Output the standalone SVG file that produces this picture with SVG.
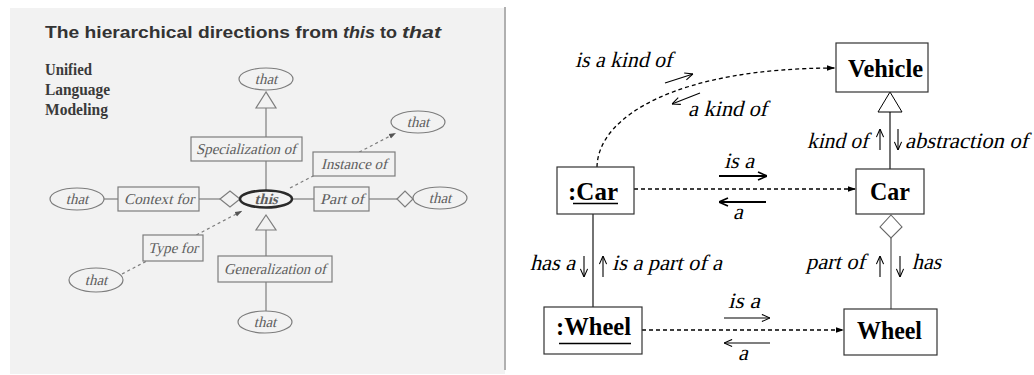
<svg xmlns="http://www.w3.org/2000/svg" width="1034" height="375" viewBox="0 0 1034 375">
<style>
.bg{fill:#f2f2f2}
.lg{stroke:#7d7d7d;stroke-width:1.2;fill:#f2f2f2}
.ll{stroke:#7d7d7d;stroke-width:1.2;fill:none}
.ld{stroke:#7d7d7d;stroke-width:1.2;fill:none;stroke-dasharray:3 3}
.lt{font-family:"Liberation Serif","Times New Roman",serif;font-size:15px;fill:#5e5e5e;text-anchor:middle}
.ttl{font-family:"Liberation Sans",Arial,sans-serif;font-weight:bold;font-size:17px;fill:#333}
.uml{font-family:"Liberation Serif","Times New Roman",serif;font-weight:bold;font-size:16px;fill:#3a3a3a}
.box{fill:#fff;stroke:#333;stroke-width:1.2}
.bt{font-family:"Liberation Serif","Times New Roman",serif;font-weight:bold;font-size:26px;fill:#000}
.it{font-family:"Liberation Serif","Times New Roman",serif;font-size:22px;fill:#000}
.dash{stroke:#000;stroke-width:1.3;fill:none;stroke-dasharray:4 3}
.sol{stroke:#000;stroke-width:1.1;fill:none}
.arr{stroke:#000;stroke-width:1.1;fill:none}
.arrb{stroke:#000;stroke-width:2;fill:none}
</style>
<defs>
<marker id="fa" viewBox="0 0 10 10" refX="10" refY="5" markerWidth="8" markerHeight="8" orient="auto" markerUnits="userSpaceOnUse"><path d="M0,1.5 L10,5 L0,8.5Z" fill="#000"/></marker>
<marker id="ga" viewBox="0 0 10 10" refX="10" refY="5" markerWidth="7" markerHeight="7" orient="auto" markerUnits="userSpaceOnUse"><path d="M0,1.5 L10,5 L0,8.5Z" fill="#555"/></marker>
<marker id="oa" viewBox="0 0 10 10" refX="10" refY="5" markerWidth="9" markerHeight="9" orient="auto" markerUnits="userSpaceOnUse"><path d="M1,1 L10,5 L1,9" fill="none" stroke="#000" stroke-width="1.2"/></marker>
<marker id="ob" viewBox="0 0 10 10" refX="10" refY="5" markerWidth="10" markerHeight="10" orient="auto" markerUnits="userSpaceOnUse"><path d="M1,1 L10,5 L1,9" fill="none" stroke="#000" stroke-width="1.6"/></marker>
</defs>

<!-- left panel: overview of UML directions -->
<rect class="bg" x="10" y="8" width="495" height="366"/>
<line x1="505" y1="7" x2="505" y2="370" stroke="#b0b0b0" stroke-width="2"/>
<text class="ttl" x="45" y="38" textLength="293" lengthAdjust="spacingAndGlyphs">The hierarchical directions from</text>
<text class="ttl" x="343" y="38" font-style="italic" textLength="32" lengthAdjust="spacingAndGlyphs">this</text>
<text class="ttl" x="380" y="38" textLength="17" lengthAdjust="spacingAndGlyphs">to</text>
<text class="ttl" x="402" y="38" font-style="italic" textLength="39" lengthAdjust="spacingAndGlyphs">that</text>
<text class="uml" x="45" y="75" textLength="47" lengthAdjust="spacingAndGlyphs">Unified</text>
<text class="uml" x="45" y="95" textLength="65" lengthAdjust="spacingAndGlyphs">Language</text>
<text class="uml" x="45" y="115" textLength="63" lengthAdjust="spacingAndGlyphs">Modeling</text>

<g id="left-connectors">
<line class="ll" x1="266" y1="108" x2="266" y2="191"/>
<line class="ll" x1="266" y1="230" x2="266" y2="311"/>
<line class="ll" x1="104" y1="199" x2="118" y2="199"/>
<line class="ll" x1="199" y1="199" x2="220" y2="199"/>
<line class="ll" x1="292" y1="199" x2="314" y2="199"/>
<line class="ll" x1="369" y1="199" x2="397" y2="199"/>
<line class="ld" x1="290" y1="188" x2="396" y2="133" marker-end="url(#ga)"/>
<line class="ld" x1="122" y1="274" x2="242" y2="211" marker-end="url(#ga)"/>
</g>

<g id="l-that-top"><ellipse class="lg" cx="266" cy="79" rx="27" ry="11"/><text class="lt" transform="translate(266,84) skewX(-14)">that</text></g>
<g id="l-gen-tri-top"><polygon class="lg" points="266,92 256,108 276,108"/></g>
<g id="l-spec"><rect class="lg" x="191" y="137" width="111" height="24"/><text class="lt" transform="translate(246,154) skewX(-14)" textLength="100" lengthAdjust="spacingAndGlyphs">Specialization of</text></g>
<g id="l-that-inst"><ellipse class="lg" cx="418" cy="122" rx="27" ry="11"/><text class="lt" transform="translate(418,127) skewX(-14)">that</text></g>
<g id="l-inst"><rect class="lg" x="313" y="152" width="82" height="24"/><text class="lt" transform="translate(354,169) skewX(-14)" textLength="66" lengthAdjust="spacingAndGlyphs">Instance of</text></g>
<g id="l-that-left"><ellipse class="lg" cx="77" cy="199" rx="27" ry="11"/><text class="lt" transform="translate(77,204) skewX(-14)">that</text></g>
<g id="l-context"><rect class="lg" x="118" y="187" width="81" height="24"/><text class="lt" transform="translate(159,204) skewX(-14)" textLength="70" lengthAdjust="spacingAndGlyphs">Context for</text></g>
<g id="l-dia-left"><polygon class="lg" points="220,199 230,191 240,199 230,207"/></g>
<g id="l-this"><ellipse cx="266" cy="199" rx="26" ry="8.5" fill="#f2f2f2" stroke="#2a2a2a" stroke-width="2.5"/><text class="lt" transform="translate(266,204) skewX(-14)" font-weight="bold" fill="#333">this</text></g>
<g id="l-partof"><rect class="lg" x="314" y="187" width="55" height="24"/><text class="lt" transform="translate(342,204) skewX(-14)" textLength="44" lengthAdjust="spacingAndGlyphs">Part of</text></g>
<g id="l-dia-right"><polygon class="lg" points="397,199 405,191 413,199 405,207"/></g>
<g id="l-that-right"><ellipse class="lg" cx="440" cy="198" rx="27" ry="11"/><text class="lt" transform="translate(440,203) skewX(-14)">that</text></g>
<g id="l-gen-tri-bot"><polygon class="lg" points="266,215 256,230 276,230"/></g>
<g id="l-typefor"><rect class="lg" x="143" y="235" width="60" height="26"/><text class="lt" transform="translate(173,253) skewX(-14)" textLength="50" lengthAdjust="spacingAndGlyphs">Type for</text></g>
<g id="l-that-type"><ellipse class="lg" cx="96" cy="280" rx="27" ry="12"/><text class="lt" transform="translate(96,285) skewX(-14)">that</text></g>
<g id="l-general"><rect class="lg" x="218" y="256" width="114" height="26"/><text class="lt" transform="translate(275,274) skewX(-14)" textLength="102" lengthAdjust="spacingAndGlyphs">Generalization of</text></g>
<g id="l-that-bot"><ellipse class="lg" cx="265" cy="322" rx="27" ry="11"/><text class="lt" transform="translate(265,327) skewX(-14)">that</text></g>

<!-- right panel -->
<g id="connectors">
<path class="dash" d="M597,167 C598,115 680,68 835,68" marker-end="url(#fa)"/>
<line class="dash" x1="634" y1="189" x2="856" y2="189" marker-end="url(#fa)"/>
<line class="dash" x1="642" y1="330" x2="844" y2="330" marker-end="url(#fa)"/>
<line class="sol" x1="593" y1="214" x2="593" y2="307"/>
<line class="sol" x1="890" y1="112" x2="890" y2="169"/>
<polygon points="890,92 878,112 902,112" fill="#fff" stroke="#000" stroke-width="1"/>
<line x1="891" y1="238" x2="891" y2="309" stroke="#808080" stroke-width="1.6"/>
<polygon points="891,215 902,227 891,238 880,227" fill="#fff" stroke="#666" stroke-width="1.1"/>
</g>

<g id="vehicle"><rect class="box" x="836" y="43" width="92" height="49"/><text class="bt" x="848" y="77" textLength="75" lengthAdjust="spacingAndGlyphs">Vehicle</text></g>
<g id="car"><rect class="box" x="856" y="169" width="68" height="45"/><text class="bt" x="870" y="200" textLength="40" lengthAdjust="spacingAndGlyphs">Car</text></g>
<g id="car-instance"><rect class="box" x="557" y="167" width="77" height="47"/><text class="bt" x="568" y="200" textLength="50" lengthAdjust="spacingAndGlyphs">:Car</text><line x1="573" y1="203.5" x2="618" y2="203.5" stroke="#000" stroke-width="1.5"/></g>
<g id="wheel-instance"><rect class="box" x="544" y="307" width="98" height="47"/><text class="bt" x="556" y="335" textLength="75" lengthAdjust="spacingAndGlyphs">:Wheel</text><line x1="559" y1="343.5" x2="631" y2="343.5" stroke="#000" stroke-width="1.5"/></g>
<g id="wheel"><rect class="box" x="844" y="309" width="93" height="46"/><text class="bt" x="857" y="339" textLength="65" lengthAdjust="spacingAndGlyphs">Wheel</text></g>

<g id="labels">
<text class="it" transform="translate(575,67) skewX(-14)" textLength="97" lengthAdjust="spacingAndGlyphs">is a kind of</text>
<line class="arr" x1="665" y1="83" x2="693" y2="74" marker-end="url(#oa)"/>
<line class="arr" x1="700" y1="93" x2="672" y2="104" marker-end="url(#oa)"/>
<text class="it" transform="translate(688,116) skewX(-14)" textLength="79" lengthAdjust="spacingAndGlyphs">a kind of</text>

<text class="it" transform="translate(807,148) skewX(-14)" textLength="61" lengthAdjust="spacingAndGlyphs">kind of</text>
<line class="arr" x1="880" y1="150" x2="880" y2="129" marker-end="url(#oa)"/>
<line class="arr" x1="898" y1="129" x2="898" y2="150" marker-end="url(#oa)"/>
<text class="it" transform="translate(905,148) skewX(-14)" textLength="123" lengthAdjust="spacingAndGlyphs">abstraction of</text>

<text class="it" transform="translate(724,168) skewX(-14)" textLength="30" lengthAdjust="spacingAndGlyphs">is a</text>
<line class="arrb" x1="719" y1="176" x2="767" y2="176" marker-end="url(#ob)"/>
<line class="arrb" x1="766" y1="202" x2="719" y2="202" marker-end="url(#ob)"/>
<text class="it" transform="translate(733,219) skewX(-14)">a</text>

<text class="it" transform="translate(530,270) skewX(-14)" textLength="45" lengthAdjust="spacingAndGlyphs">has a</text>
<line class="arr" x1="584" y1="256" x2="584" y2="277" marker-end="url(#oa)"/>
<line class="arr" x1="603" y1="277" x2="603" y2="256" marker-end="url(#oa)"/>
<text class="it" transform="translate(612,270) skewX(-14)" textLength="110" lengthAdjust="spacingAndGlyphs">is a part of a</text>

<text class="it" transform="translate(806,269) skewX(-14)" textLength="59" lengthAdjust="spacingAndGlyphs">part of</text>
<line class="arr" x1="880" y1="277" x2="880" y2="256" marker-end="url(#oa)"/>
<line class="arr" x1="900" y1="256" x2="900" y2="277" marker-end="url(#oa)"/>
<text class="it" transform="translate(912,269) skewX(-14)" textLength="29" lengthAdjust="spacingAndGlyphs">has</text>

<text class="it" transform="translate(728,308) skewX(-14)" textLength="32" lengthAdjust="spacingAndGlyphs">is a</text>
<line class="arr" x1="724" y1="318" x2="770" y2="318" marker-end="url(#oa)"/>
<line class="arr" x1="770" y1="343" x2="724" y2="343" marker-end="url(#oa)"/>
<text class="it" transform="translate(738,360) skewX(-14)">a</text>
</g>
</svg>
